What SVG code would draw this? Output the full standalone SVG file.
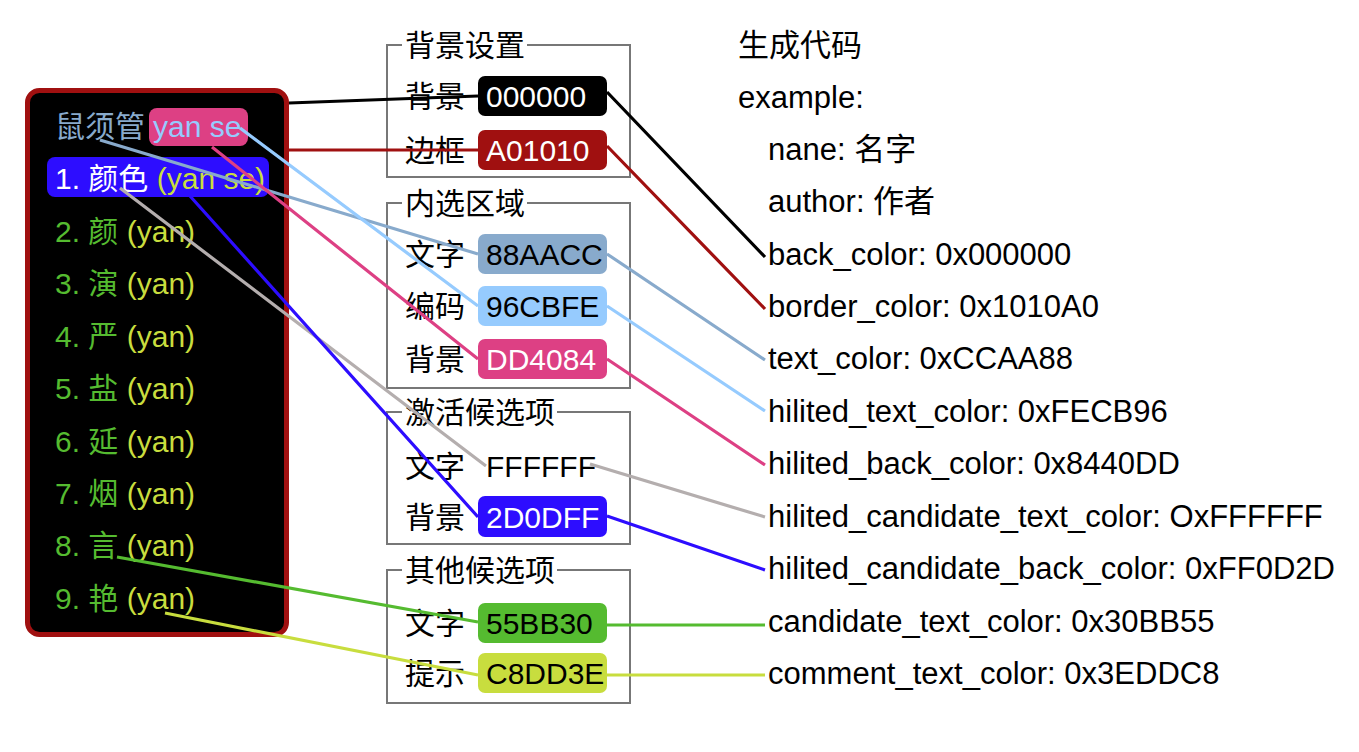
<svg xmlns="http://www.w3.org/2000/svg" width="1359" height="752" viewBox="0 0 1359 752">
<style>
text{font-family:"Liberation Sans","Noto Sans CJK SC",sans-serif;font-size:30px;}
.r{font-size:31px}
.k{fill:#000}
.w{fill:#fff}
.g{fill:#55bb30}
.y{fill:#c8dd3e}
.box{fill:none;stroke:#777;stroke-width:2}
.c{fill:none;stroke-width:3.2;stroke-linecap:butt}
</style>
<rect width="1359" height="752" fill="#fff"/>
<g id="preview">
<rect x="27.5" y="90.5" width="259" height="544" rx="12" fill="#000" stroke="#a01010" stroke-width="5"/>
<text x="55" y="137" fill="#88aacc">鼠须管</text>
<rect x="149" y="108" width="99" height="38" rx="8" fill="#dd4084"/>
<text x="153" y="137" fill="#96cbfe">yan se</text>
<rect x="47" y="157" width="222" height="40" rx="8" fill="#2d0dff"/>
<text x="55" y="189"><tspan class="w">1. 颜色 </tspan><tspan class="y">(yan se)</tspan></text>
<text x="55" y="242"><tspan class="g">2. 颜 </tspan><tspan class="y">(yan)</tspan></text>
<text x="55" y="294"><tspan class="g">3. 演 </tspan><tspan class="y">(yan)</tspan></text>
<text x="55" y="347"><tspan class="g">4. 严 </tspan><tspan class="y">(yan)</tspan></text>
<text x="55" y="399"><tspan class="g">5. 盐 </tspan><tspan class="y">(yan)</tspan></text>
<text x="55" y="452"><tspan class="g">6. 延 </tspan><tspan class="y">(yan)</tspan></text>
<text x="55" y="504"><tspan class="g">7. 烟 </tspan><tspan class="y">(yan)</tspan></text>
<text x="55" y="556"><tspan class="g">8. 言 </tspan><tspan class="y">(yan)</tspan></text>
<text x="55" y="609"><tspan class="g">9. 艳 </tspan><tspan class="y">(yan)</tspan></text>
</g>
<g id="bg-settings">
<path class="box" d="M402 45H387V177H630V45H527"/>
<text x="405" y="56">背景设置</text>
<text x="405" y="107">背景</text>
<rect x="478" y="76" width="129" height="40" rx="7" fill="#000"/>
<text x="486" y="107" class="w">000000</text>
<text x="405" y="161">边框</text>
<rect x="478" y="130" width="129" height="40" rx="7" fill="#a01010"/>
<text x="486" y="161" class="w">A01010</text>
</g>
<g id="selection">
<path class="box" d="M402 203H387V388H630V203H527"/>
<text x="405" y="214">内选区域</text>
<text x="405" y="265">文字</text>
<rect x="478" y="234" width="129" height="40" rx="7" fill="#88aacc"/>
<text x="486" y="265" class="k">88AACC</text>
<text x="405" y="317">编码</text>
<rect x="478" y="286" width="129" height="40" rx="7" fill="#96cbfe"/>
<text x="486" y="317" class="k">96CBFE</text>
<text x="405" y="370">背景</text>
<rect x="478" y="339" width="129" height="40" rx="7" fill="#dd4084"/>
<text x="486" y="370" class="w">DD4084</text>
</g>
<g id="active">
<path class="box" d="M402 412H387V544H630V412H557"/>
<text x="405" y="423">激活候选项</text>
<text x="405" y="477">文字</text>
<text x="486" y="477" class="k">FFFFFF</text>
<text x="405" y="528">背景</text>
<rect x="478" y="496" width="129" height="41" rx="7" fill="#2d0dff"/>
<text x="486" y="528" class="w">2D0DFF</text>
</g>
<g id="other">
<path class="box" d="M402 570H387V703H630V570H557"/>
<text x="405" y="581">其他候选项</text>
<text x="405" y="634">文字</text>
<rect x="478" y="603" width="129" height="40" rx="7" fill="#55bb30"/>
<text x="486" y="634" class="k">55BB30</text>
<text x="405" y="684">提示</text>
<rect x="478" y="653" width="129" height="40" rx="7" fill="#c8dd3e"/>
<text x="486" y="684" class="k">C8DD3E</text>
</g>
<g id="code">
<text x="738" y="56" class="r">生成代码</text>
<text x="738" y="108" class="r">example:</text>
<text x="768" y="160" class="r">nane: 名字</text>
<text x="768" y="212" class="r">author: 作者</text>
<text x="768" y="265" class="r">back_color: 0x000000</text>
<text x="768" y="317" class="r">border_color: 0x1010A0</text>
<text x="768" y="369" class="r">text_color: 0xCCAA88</text>
<text x="768" y="422" class="r">hilited_text_color: 0xFECB96</text>
<text x="768" y="474" class="r">hilited_back_color: 0x8440DD</text>
<text x="768" y="527" class="r">hilited_candidate_text_color: OxFFFFFF</text>
<text x="768" y="579" class="r">hilited_candidate_back_color: 0xFF0D2D</text>
<text x="768" y="632" class="r">candidate_text_color: 0x30BB55</text>
<text x="768" y="684" class="r">comment_text_color: 0x3EDDC8</text>
</g>
<g id="connectors">
<path class="c" stroke="#000" d="M289 103L478 96M607 92L765 257"/>
<path class="c" stroke="#a01010" d="M289 150L478 150M607 146L765 309"/>
<path class="c" stroke="#88aacc" d="M100 140L478 254M607 254L765 360"/>
<path class="c" stroke="#96cbfe" d="M240 128L478 306M607 306L765 411"/>
<path class="c" stroke="#dd4084" d="M212 147L478 359M607 359L765 465"/>
<path class="c" stroke="#b4aeae" d="M120 188L486 466M590 464L765 517"/>
<path class="c" stroke="#2d0dff" d="M190 196L478 517M607 516L765 570"/>
<path class="c" stroke="#55bb30" d="M117 557L478 622M607 625L765 625"/>
<path class="c" stroke="#c8dd3e" d="M165 613L478 675M607 675L765 675"/>
</g>
</svg>
